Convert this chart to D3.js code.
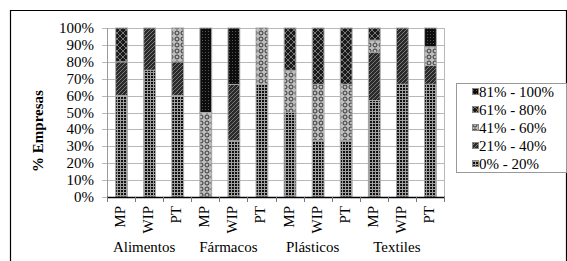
<!DOCTYPE html>
<html><head><meta charset="utf-8">
<script src="https://cdn.jsdelivr.net/npm/d3@7"></script>
<style>body{margin:0;background:#fff}svg{display:block}</style>
</head><body>
<svg id="c" width="567" height="261" font-family="'Liberation Serif', 'Times New Roman', Tinos, 'DejaVu Serif', serif"></svg>
<script>
const groups = ["Alimentos","Fármacos","Plásticos","Textiles"];
const subcats = ["MP","WIP","PT"];
const seriesNames = ["0% - 20%","21% - 40%","41% - 60%","61% - 80%","81% - 100%"];
// values per bar (percent), bars ordered group x subcat
const s0 = [60,75,60, 0,33.3,66.7, 50,33.3,33.3, 57.1,66.7,66.7];
const s1 = [20,25,20, 0,33.3,0, 0,0,0, 28.6,33.3,11.1];
const s2 = [0,0,20, 50,0,33.3, 25,33.4,33.4, 7.1,0,11.1];
const s3 = [20,0,0, 0,0,0, 25,33.3,33.3, 7.2,0,0];
const s4 = [0,0,0, 50,33.4,0, 0,0,0, 0,0,11.1];
const yTicks = [0,10,20,30,40,50,60,70,80,90,100];

const series = [s0,s1,s2,s3,s4];
const bars = [];
groups.forEach((g,gi)=>subcats.forEach((s,si)=>{
  const i = gi*3+si; const row = {id:i, g, s};
  seriesNames.forEach((n,k)=>row[n]=series[k][i]);
  bars.push(row);
}));

const svg = d3.select("#c");
const defs = svg.append("defs");
function pat(id, size, bg, draw){
  const p = defs.append("pattern").attr("id",id).attr("patternUnits","userSpaceOnUse").attr("width",size).attr("height",size);
  p.append("rect").attr("width",size).attr("height",size).attr("fill",bg);
  draw(p);
}
pat("p0",3,"#111",p=>{
  p.append("rect").attr("x",0).attr("y",0).attr("width",3).attr("height",1).attr("fill","#a0a0a0");
  p.append("rect").attr("x",0).attr("y",0).attr("width",1).attr("height",3).attr("fill","#a0a0a0");
});
pat("p1",4,"#2a2a2a",p=>{
  p.append("path").attr("d","M-1,1 L1,-1 M0,4 L4,0 M3,5 L5,3").attr("stroke","#7a7a7a").attr("stroke-width",1);
});
pat("p2",6,"#bdbdbd",p=>{
  p.append("circle").attr("cx",3).attr("cy",3).attr("r",2).attr("fill","none").attr("stroke","#333").attr("stroke-width",1);
});
pat("p3",6,"#1a1a1a",p=>{
  p.append("path").attr("d","M0,0 L6,6 M6,0 L0,6").attr("stroke","#777").attr("stroke-width",1);
});
pat("p4",3,"#0d0d0d",p=>{
  p.append("rect").attr("x",1).attr("y",1).attr("width",1).attr("height",1).attr("fill","#555");
});

// outer border
svg.append("path").attr("d","M10.5,270 V10.5 H566.5 V270").attr("fill","none").attr("stroke","#000").attr("stroke-width",1.2);

const L=107, R=444, T=28, B=197;
const x = d3.scaleBand().domain(bars.map(d=>d.id)).range([L,R]).paddingInner(0.58).paddingOuter(0.29);
const xb = d3.scaleBand().domain(bars.map(d=>d.id)).range([L,R]);
const y = d3.scaleLinear().domain([0,100]).range([B,T]);

// gridlines
svg.append("g").selectAll("line").data(yTicks).join("line")
  .attr("x1",L-5).attr("x2",R).attr("y1",d=>Math.round(y(d))+0.5).attr("y2",d=>Math.round(y(d))+0.5)
  .attr("stroke","#b8b8b8").attr("stroke-width",1);
svg.append("line").attr("x1",L+0.5).attr("x2",L+0.5).attr("y1",T).attr("y2",B).attr("stroke","#9a9a9a");
svg.append("line").attr("x1",R+0.5).attr("x2",R+0.5).attr("y1",T).attr("y2",B).attr("stroke","#b8b8b8");

// y labels
svg.append("g").selectAll("text").data(yTicks).join("text")
  .attr("x",94).attr("y",d=>y(d)+5).attr("text-anchor","end").attr("font-size",15).text(d=>d+"%");

// bars
const stack = d3.stack().keys(seriesNames)(bars);
svg.append("g").selectAll("g").data(stack).join("g")
  .attr("fill",(d,i)=>`url(#p${i})`)
  .selectAll("rect").data(d=>d.filter(v=>v[1]-v[0]>0)).join("rect")
  .attr("x",d=>x(d.data.id)+0.5).attr("width",x.bandwidth())
  .attr("y",d=>y(d[1])).attr("height",d=>y(d[0])-y(d[1]))
  .attr("stroke","#a8a8a8").attr("stroke-width",1);

// x axis
svg.append("line").attr("x1",L).attr("x2",R+1).attr("y1",B+0.5).attr("y2",B+0.5).attr("stroke","#000").attr("stroke-width",1.3);
const bounds = bars.map(d=>xb(d.id)).concat([R]);
svg.append("g").selectAll("line").data(bounds).join("line")
  .attr("x1",d=>Math.round(d)+0.5).attr("x2",d=>Math.round(d)+0.5).attr("y1",B).attr("y2",B+5).attr("stroke","#777");

svg.append("g").selectAll("text").data(bars).join("text")
  .attr("transform",d=>`translate(${xb(d.id)+xb.bandwidth()/2+4},206) rotate(-90)`)
  .attr("text-anchor","end").attr("font-size",15).text(d=>d.s);

const xg = d3.scaleBand().domain(groups).range([L,R]);
svg.append("g").selectAll("text").data(groups).join("text")
  .attr("x",d=>xg(d)+xg.bandwidth()/2-5).attr("y",252).attr("text-anchor","middle").attr("font-size",15).text(d=>d);

// y title
svg.append("text").attr("transform","translate(43,131) rotate(-90)").attr("text-anchor","middle")
  .attr("font-size",15).attr("font-weight","bold").text("% Empresas");

// legend
const lg = svg.append("g");
lg.append("rect").attr("x",456.5).attr("y",83.5).attr("width",110).attr("height",89).attr("fill","#fff").attr("stroke","#999");
const order = seriesNames.slice().reverse();
const li = lg.selectAll("g").data(order).join("g").attr("transform",(d,i)=>`translate(472,${92+i*18})`);
li.append("rect").attr("x",0.5).attr("y",-3.5).attr("width",6).attr("height",6)
  .attr("fill",d=>`url(#p${seriesNames.indexOf(d)})`).attr("stroke","#888");
li.append("text").attr("x",7).attr("y",5).attr("font-size",15).text(d=>d);
</script>
</body></html>
